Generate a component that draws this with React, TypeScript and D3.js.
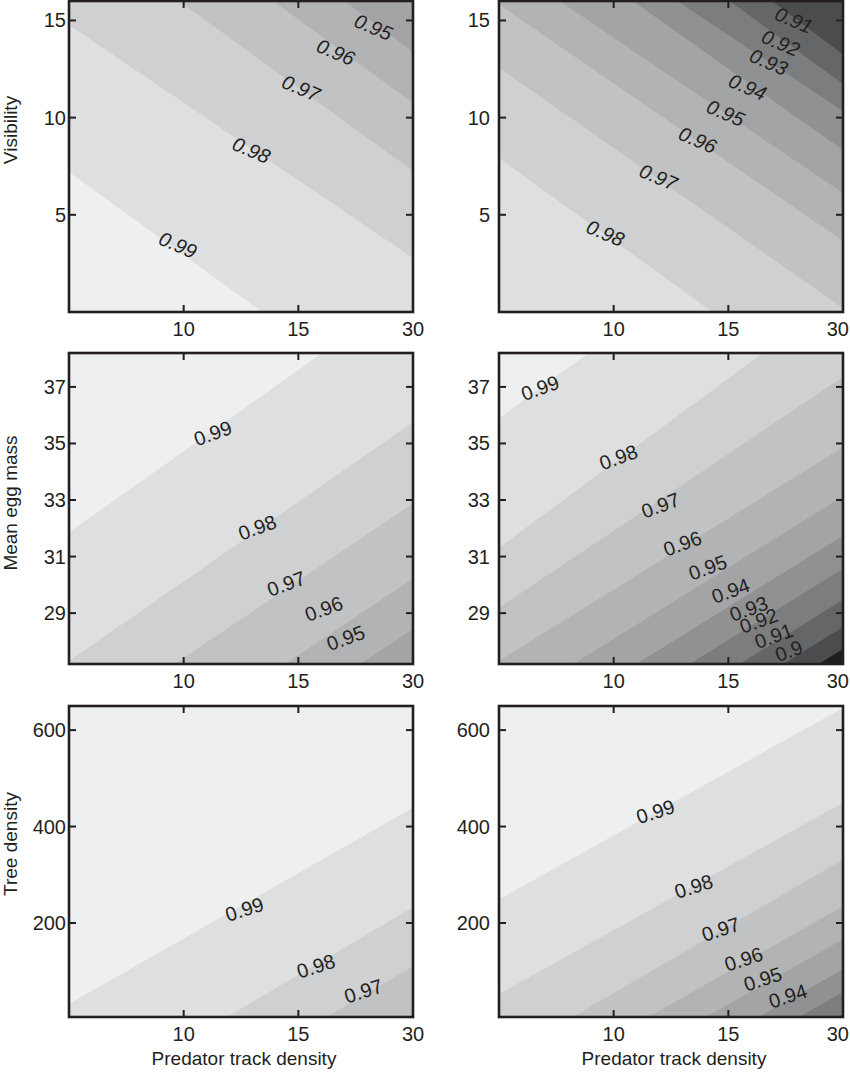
import * as d3 from "d3";
import React from "react";

// x axis: predator track density (broken axis, equal spacing between breaks)
const predatorBreaks = [5, 10, 15, 30];
const predatorTicks = [10, 15, 30];

const visibilityDomain = [0, 16];
const visibilityTicks = [5, 10, 15];
const eggMassDomain = [27.2, 38.2];
const eggMassTicks = [29, 31, 33, 35, 37];
const treeDomain = [5, 650];
const treeTicks = [200, 400, 600];

// contour lines: y value where each line meets x = 5 (left) and x = 30 (right)
const visLeftLevels = [0.99, 0.98, 0.97, 0.96, 0.95];
const visLeftStart = [7.2, 14.76, 20.11, 23.66, 26.59];
const visLeftEnd = [-5.61, 2.78, 7.25, 10.75, 13.37];
const visLeftLabelX = [9.75, 12.95, 15.35, 19.89, 24.82];
const visLeftLabelY = [3.45, 8.33, 11.52, 13.37, 14.66];

const visRightLevels = [0.98, 0.97, 0.96, 0.95, 0.94, 0.93, 0.92, 0.91];
const visRightStart = [7.92, 12.55, 15.82, 18.11, 20.88, 22.07, 24.69, 26.59];
const visRightEnd = [-4.84, 0.21, 3.65, 6.12, 8.33, 10.34, 11.73, 13.25];
const visRightLabelX = [9.64, 11.95, 13.66, 14.88, 17.53, 20.29, 21.86, 23.57];
const visRightLabelY = [4.06, 6.94, 8.85, 10.24, 11.57, 12.86, 13.84, 15.02];

const eggLeftLevels = [0.99, 0.98, 0.97, 0.96, 0.95];
const eggLeftStart = [31.85, 27.31, 24.68, 22.09, 20.32];
const eggLeftEnd = [40.47, 35.75, 32.88, 30.22, 28.44];
const eggLeftLabelX = [11.27, 13.21, 14.47, 18.33, 21.19];
const eggLeftLabelY = [35.36, 32.03, 30.04, 29.15, 28.12];

const eggRightLevels = [0.99, 0.98, 0.97, 0.96, 0.95, 0.94, 0.93, 0.92, 0.91, 0.9];
const eggRightStart = [35.89, 31.32, 29.19, 27.31, 25.57, 24.18, 23.01, 21.91, 20.95, 20.17];
const eggRightEnd = [44.77, 40.29, 37.35, 34.87, 33.13, 31.74, 30.57, 29.47, 28.51, 27.73];
const eggRightLabelX = [6.79, 10.21, 12.04, 13.0, 14.1, 15.3, 17.66, 18.98, 20.94, 22.91];
const eggRightLabelY = [36.96, 34.51, 32.81, 31.46, 30.61, 29.79, 29.15, 28.73, 28.19, 27.66];

const treeLeftLevels = [0.99, 0.98, 0.97];
const treeLeftStart = [31.9, -187.3, -309.2];
const treeLeftEnd = [439.2, 232.4, 110.4];
const treeLeftLabelX = [12.65, 17.3, 23.52];
const treeLeftLabelY = [228.3, 110.4, 58.75];

const treeRightLevels = [0.99, 0.98, 0.97, 0.96, 0.95, 0.94, 0.93, 0.92];
const treeRightStart = [249.0, 52.6, -83.9, -170.7, -239.0, -301.0, -348.5, -394.0];
const treeRightEnd = [645.9, 449.5, 331.7, 234.5, 166.3, 104.2, 56.7, 11.2];
const treeRightLabelX = [11.82, 13.49, 14.67, 17.0, 19.5, 22.78];
const treeRightLabelY = [430.9, 275.8, 186.9, 124.9, 83.6, 48.4];

const bandThresholds = [0.9, 0.91, 0.92, 0.93, 0.94, 0.95, 0.96, 0.97, 0.98, 0.99];
const bandGreys = ["#1e1d1f", "#4b4c4e", "#656668", "#7c7d7f", "#909193", "#a3a4a6",
    "#b2b3b5", "#c1c2c4", "#cfd0d2", "#dedfe1", "#eeeff1"];

const W = 850, H = 1073;
const colX = [69, 499];
const rowY = [1, 353, 706];
const panelW = 344, panelH = 311;
const ink = "#231f20";
const font = "'Liberation Sans', Arial, sans-serif";

const rows = [
    { title: "Visibility", domain: visibilityDomain, ticks: visibilityTicks, titleY: 130, darkUp: true, angle: 23, italic: true },
    { title: "Mean egg mass", domain: eggMassDomain, ticks: eggMassTicks, titleY: 503, darkUp: false, angle: -20, italic: false },
    { title: "Tree density", domain: treeDomain, ticks: treeTicks, titleY: 844, darkUp: false, angle: -18, italic: false },
];

const panels = [
    { row: 0, col: 0, levels: visLeftLevels, start: visLeftStart, end: visLeftEnd, lx: visLeftLabelX, ly: visLeftLabelY },
    { row: 0, col: 1, levels: visRightLevels, start: visRightStart, end: visRightEnd, lx: visRightLabelX, ly: visRightLabelY },
    { row: 1, col: 0, levels: eggLeftLevels, start: eggLeftStart, end: eggLeftEnd, lx: eggLeftLabelX, ly: eggLeftLabelY },
    { row: 1, col: 1, levels: eggRightLevels, start: eggRightStart, end: eggRightEnd, lx: eggRightLabelX, ly: eggRightLabelY },
    { row: 2, col: 0, levels: treeLeftLevels, start: treeLeftStart, end: treeLeftEnd, lx: treeLeftLabelX, ly: treeLeftLabelY },
    { row: 2, col: 1, levels: treeRightLevels, start: treeRightStart, end: treeRightEnd, lx: treeRightLabelX, ly: treeRightLabelY },
];

const tickPad = [3, 9];

const App = () => {
    const color = d3.scaleThreshold<number, string>().domain(bandThresholds).range(bandGreys);
    const line = d3.line();

    return (
        <svg width={W} height={H} style={{ position: "absolute", left: 0, top: 0, background: "#fff" }}
            fontFamily={font}>
            {panels.map((p, i) => {
                const r = rows[p.row];
                const x0 = colX[p.col], y0 = rowY[p.row];
                const x = d3.scaleLinear().domain(predatorBreaks)
                    .range(predatorBreaks.map((_, k) => x0 + (k * panelW) / 3));
                const y = d3.scaleLinear().domain(r.domain).range([y0 + panelH, y0]);
                const far = r.darkUp ? y0 - 2000 : y0 + panelH + 2000;
                const clipId = `clip-${i}`;
                return (
                    <g key={i}>
                        <clipPath id={clipId}>
                            <rect x={x0} y={y0} width={panelW} height={panelH} />
                        </clipPath>
                        <g clipPath={`url(#${clipId})`}>
                            <rect x={x0} y={y0} width={panelW} height={panelH} fill={color(p.levels[0] + 0.005)} />
                            {p.levels.map((lv, k) => {
                                const a: [number, number] = [x(5), y(p.start[k])];
                                const b: [number, number] = [x(30), y(p.end[k])];
                                const d = line([a, b, [x(30), far], [x(5), far]]) + "Z";
                                return <path key={k} d={d} fill={color(lv - 0.005)} />;
                            })}
                            {p.lx.map((lxv, k) => (
                                <text key={k}
                                    transform={`translate(${x(lxv)},${y(p.ly[k])}) rotate(${r.angle})`}
                                    textAnchor="middle" dominantBaseline="central"
                                    fontSize={20} fill={ink}
                                    fontStyle={r.italic ? "italic" : "normal"}>
                                    {String(p.levels[k])}
                                </text>
                            ))}
                        </g>
                        {/* inward ticks on all four sides */}
                        {r.ticks.map(t => (
                            <g key={"y" + t}>
                                <line x1={x0} x2={x0 + 7} y1={y(t)} y2={y(t)} stroke={ink} strokeWidth={2} />
                                <line x1={x0 + panelW} x2={x0 + panelW - 7} y1={y(t)} y2={y(t)} stroke={ink} strokeWidth={2} />
                                <text x={x0 - tickPad[p.col]} y={y(t)} dy="0.35em" textAnchor="end"
                                    fontSize={20} fill={ink}>{t}</text>
                            </g>
                        ))}
                        {predatorTicks.map(t => {
                            const atEdge = p.col === 1 && x(t) + 12 > W;
                            return (
                                <g key={"x" + t}>
                                    <line x1={x(t)} x2={x(t)} y1={y0 + panelH} y2={y0 + panelH - 7} stroke={ink} strokeWidth={2} />
                                    <line x1={x(t)} x2={x(t)} y1={y0} y2={y0 + 7} stroke={ink} strokeWidth={2} />
                                    <text x={atEdge ? W - 1 : x(t)} y={y0 + panelH + 24}
                                        textAnchor={atEdge ? "end" : "middle"}
                                        fontSize={20} fill={ink}>{t}</text>
                                </g>
                            );
                        })}
                        <rect x={x0} y={y0} width={panelW} height={panelH} fill="none" stroke={ink} strokeWidth={2.6} />
                        {p.col === 0 && (
                            <text transform={`translate(17,${r.titleY}) rotate(-90)`} textAnchor="middle"
                                fontSize={19} fill={ink}>{r.title}</text>
                        )}
                        {p.row === 2 && (
                            <text x={x0 + panelW / 2 + 3} y={1065} textAnchor="middle"
                                fontSize={19} fill={ink}>Predator track density</text>
                        )}
                    </g>
                );
            })}
        </svg>
    );
};

export default App;
